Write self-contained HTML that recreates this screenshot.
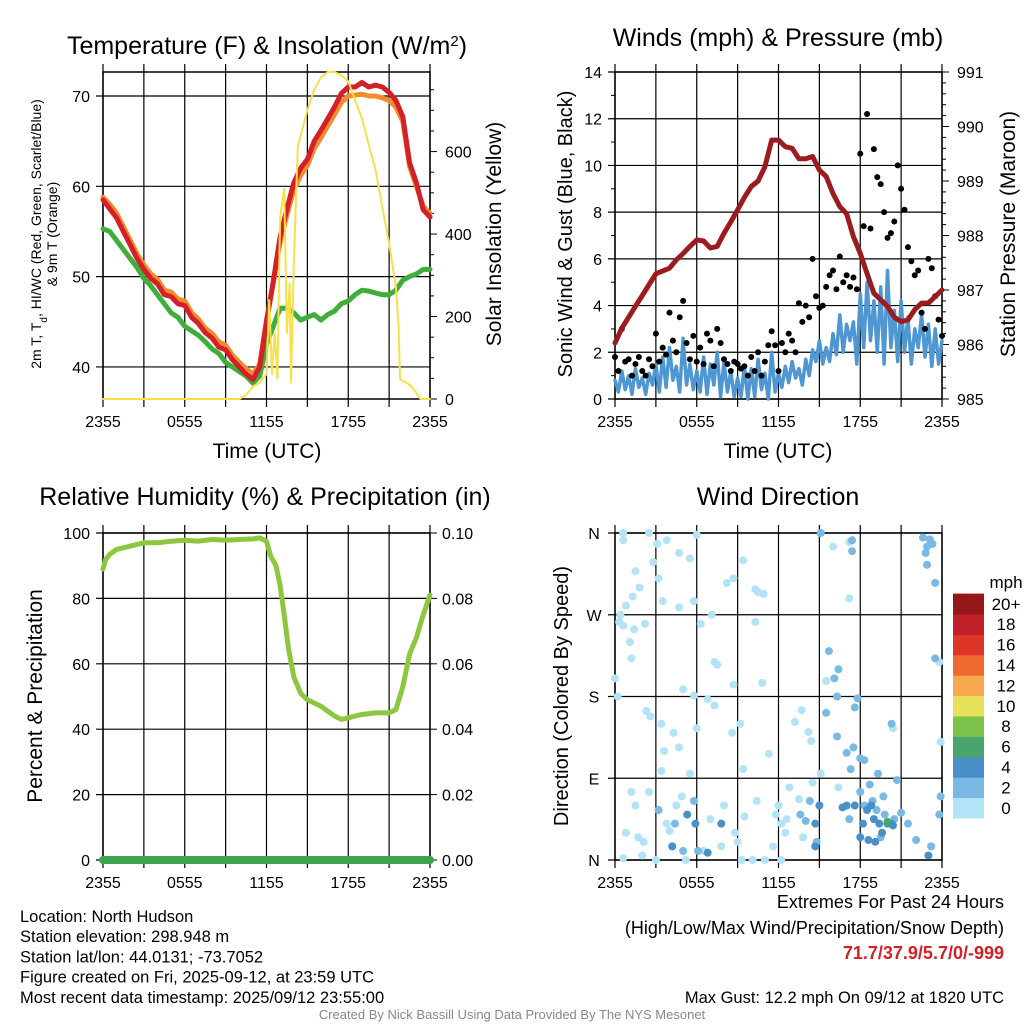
<!DOCTYPE html>
<html><head><meta charset="utf-8"><style>
html,body{margin:0;padding:0;background:#fff;}
svg{display:block;font-family:"Liberation Sans",sans-serif;}
</style></head><body>
<svg id="c" width="1024" height="1024" viewBox="0 0 1024 1024">
<g id="g1"></g>
<g id="g2"></g>
<g id="g3"></g>
<g id="g4"></g>
<g id="g5"></g>
</svg>
<script>
const hours49=[0,0.5,1,1.5,2,2.5,3,3.5,4,4.5,5,5.5,6,6.5,7,7.5,8,8.5,9,9.5,10,10.5,11,11.5,12,12.5,13,13.5,14,14.5,15,15.5,16,16.5,17,17.5,18,18.5,19,19.5,20,20.5,21,21.5,22,22.5,23,23.5,24];
const tempRed=[58.5,57.5,56.5,55,53.5,52,50.8,49.8,49.2,48,47.8,47,46.8,45.5,44.8,43.8,43.2,42.2,41.9,40.8,40,39.2,38.6,40,45,49.5,54.4,57.5,60.4,62,63,65,66.2,67.5,68.8,70.3,71,71,71.5,71,71.2,71,70.4,69.5,67.7,62.6,60.4,57.4,56.6];
const temp9m=[58.8,58,57,55.5,54,52.5,51.3,50.3,49.7,48.5,48.3,47.5,47.3,46,45.3,44.3,43.7,42.8,42.4,41.3,40.5,39.8,39.2,40.3,45.2,49.3,53.8,56.8,59.6,61.2,62.3,64.2,65.4,66.7,68,69.3,70,70.1,70.2,70,70,69.8,69.5,68.8,67.2,62.2,60,57.8,57];
const dewGreen=[55.3,55,54,53,52,51,49.8,49,48,47,46,45.5,44.5,44,43.5,42.8,42,41.5,40.5,40,39.5,39,38.2,39,42.5,44.5,46.5,46.5,46,45.2,45.5,45.8,45.2,45.8,46.2,47,47.3,48,48.5,48.4,48.2,48,48,48.5,49.6,50,50.3,50.8,50.8];
const solarHours=[0,10,10.5,11,11.5,12,12.2,12.4,12.6,12.8,13,13.3,13.5,13.7,13.8,14,14.3,15,15.5,16,16.5,17,17.5,18,19,20,21,21.5,21.7,21.8,22.5,23,23.3,24];
const solarVals=[0,0,10,30,40,60,240,60,160,50,440,510,160,280,40,330,612,700,750,780,793,793,785,770,680,555,377,272,170,48,35,15,0,0];
const tempTicks=[40,50,60,70];
const solarTicks=[0,200,400,600];
const timeTickLabels=["2355","0555","1155","1755","2355"];

const hours97=[];for(let i=0;i<=96;i++)hours97.push(i/4);
const windSonic=[0.8,0.3,1.2,0.4,1.0,0.2,1.3,0.5,0.9,0.2,1.1,0.6,1.5,0.3,1.8,0.5,2.2,0.8,1.4,0.3,2.6,0.6,1.5,0.4,1.2,0.3,1.8,0.2,1.5,0.6,2.0,0.1,1.6,0.3,1.2,0.1,0.9,0.1,1.4,0.0,1.3,0.1,1.7,0.4,1.1,0.0,2.0,0.3,1.1,0.5,1.4,0.7,1.6,0.9,1.3,0.6,1.7,1.0,2.1,1.6,2.5,1.5,2.2,1.6,2.8,1.9,3.6,2.0,3.2,2.5,3.3,1.5,4.5,2.2,5.0,2.5,4.2,2.0,4.8,1.5,5.5,2.2,3.8,1.6,4.2,2.0,3.5,1.5,3.0,2.2,3.6,1.8,3.2,1.4,3.0,1.5,2.5];
const windGust=[1.8,1.2,3.0,1.6,1.7,1.0,1.5,1.8,1.2,1.0,1.7,1.4,2.8,1.6,2.2,1.9,3.7,2.5,2.0,3.5,4.2,2.4,1.7,2.7,1.6,2.2,1.5,2.8,2.5,1.4,3.0,2.4,1.7,1.5,1.2,1.6,1.5,1.3,1.4,1.0,1.8,1.2,2.0,1.0,1.6,2.3,2.9,2.3,1.2,2.4,2.0,2.8,2.5,2.0,4.1,3.3,4.0,3.5,6.0,4.4,3.9,4.0,4.8,5.3,5.5,4.7,6.1,5.0,5.3,4.8,5.2,4.7,10.5,7.4,12.2,7.3,10.7,9.5,9.2,8.0,6.9,7.1,7.6,10.0,9.0,8.1,6.5,5.9,5.3,5.5,3.7,3.0,6.0,5.6,4.4,3.4,2.7];
const pressure=[986.03,986.3,986.5,986.7,986.9,987.1,987.3,987.35,987.4,987.55,987.67,987.8,987.92,987.9,987.77,987.8,988.04,988.25,988.47,988.7,988.9,989.0,989.26,989.75,989.75,989.63,989.6,989.41,989.41,989.45,989.2,989.08,988.77,988.53,988.4,987.98,987.67,987.3,986.94,986.82,986.7,986.5,986.42,986.45,986.64,986.76,986.76,986.88,987.0];
const windTicks=[0,2,4,6,8,10,12,14];
const pressTicks=[985,986,987,988,989,990,991];

const rhHours=[0,0.2,0.5,1,2,3,4,5,6,7,8,9,10,11,11.5,12,12.3,12.7,13,13.3,13.6,14,14.5,15,16,16.5,17,17.5,18,18.5,19,20,21,21.5,22,22.5,23,23.5,24];
const rhVals=[89,92,93.5,95,96,97,97,97.5,97.8,97.5,98,97.8,98,98.2,98.5,97.5,93,90,84,75,65,56,51,49,47,45.5,44,43,43.5,44,44.5,45,45,46,53,63,68,75,81];
const precipHours=[0,24];
const precipVals=[0,0];
const rhTicks=[0,20,40,60,80,100];
const precipTicks=["0.00","0.02","0.04","0.06","0.08","0.10"];

const dirPts=[[0.6,360,1],[0.6,352,1],[1.5,318,1],[2.5,360,1],[3.1,348,1],[1.8,300,1],[1.3,290,1],[0.8,280,1],[0.4,270,1],[0.3,262,1],[0.6,258,1],[1.4,254,1],[1.1,240,1],[1.2,222,1],[0.0,200,1],[0.2,180,1],[2.3,164,1],[2.6,158,1],[3.4,150,1],[3.6,120,1],[3.4,98,1],[2.5,75,1],[1.5,60,1],[1.2,75,1],[0.8,30,1],[1.7,25,1],[2.1,20,1],[2.0,5,1],[0.6,2,1],[3.0,0,1],[3.8,40,1],[4.0,32,1],[4.5,60,1],[4.9,70,1],[5.5,95,1],[5.2,0,1],[4.3,140,1],[4.7,124,1],[5.0,188,1],[5.8,181,1],[6.0,145,1],[6.8,177,1],[7.3,170,1],[7.3,218,1],[7.5,215,1],[7.1,270,1],[6.3,260,1],[5.8,285,1],[6.0,358,1],[5.5,332,1],[4.7,338,1],[3.8,352,1],[2.8,328,1],[3.2,310,1],[3.5,285,1],[4.7,278,1],[2.2,260,1],[8.2,305,1],[8.7,310,1],[9.4,330,1],[10.3,298,1],[10.9,293,1],[10.3,262,1],[10.5,295,1],[8.6,140,1],[9.2,150,1],[8.7,193,1],[10.8,195,1],[9.4,100,1],[11.3,117,1],[9.5,48,1],[10.4,65,1],[11.6,15,1],[12.2,40,1],[12.5,30,1],[13.5,67,1],[13.8,25,1],[12.2,0,1],[11.0,0,1],[10.1,0,1],[9.3,0,1],[13.2,152,1],[13.7,165,1],[14.2,141,1],[14.4,131,1],[15.5,197,1],[16.0,345,1],[17.2,288,1],[17.2,350,1],[15.1,95,1],[16.4,80,1],[20.4,145,1],[23.9,130,1],[23.8,218,1],[9.0,20,1],[8.0,60,1],[7.0,45,1],[6.5,10,1],[11.8,50,1],[12.8,80,1],[14.5,85,1],[12.0,60,1],[12.6,45,1],[7.8,15,1],[8.8,30,1],
[15.1,360,3],[17.4,352,3],[17.4,340,3],[15.7,230,3],[16.1,200,3],[16.4,210,3],[16.3,180,3],[15.5,162,3],[16.3,136,3],[17.6,168,3],[17.8,178,3],[17.5,124,3],[17.0,118,3],[17.3,100,3],[18.0,75,3],[18.7,83,3],[19.7,70,3],[20.7,88,3],[21.0,52,3],[21.5,40,3],[22.6,355,3],[22.9,345,3],[23.1,353,3],[22.9,325,3],[23.5,305,3],[23.5,222,3],[23.9,70,3],[23.8,50,3],[23.2,15,3],[22.1,22,3],[19.5,25,3],[19.2,55,3],[18.3,60,3],[17.2,45,3],[14.3,65,3],[14.0,43,3],[13.6,50,3],[14.8,20,3],[5.8,65,3],[5.0,10,3],[6.1,10,3],[3.2,55,3],[4.4,40,3],[20.3,150,3],[19.3,95,3],[18.3,110,3],[18.0,112,3],[20.5,45,3],[19.8,50,3],[18.9,65,3],[22.8,338,3],[23.3,348,3],
[17.0,60,5],[17.6,60,5],[18.5,55,5],[18.8,60,5],[19.0,45,5],[19.4,40,5],[20.0,40,5],[20.3,40,5],[20.4,38,5],[19.1,20,5],[18.6,22,5],[15.0,60,5],[19.6,30,5],[23.0,5,5],[14.7,40,5],[5.3,50,5],[5.9,40,5],[7.8,40,5],[4.2,15,5],[6.8,8,5],[14.7,15,5],[18.0,25,5],[18.2,40,5],[16.7,58,5],
[20.0,42,7]];
const dirTickLabels=["N","E","S","W","N"];
const cbarLabels=["0","2","4","6","8","10","12","14","16","18","20+"];
const cbarColors=["#b3e3f7","#7ab9e4","#4a90c8","#48a56c","#7dc24a","#e6e25a","#f6a84a","#ef6a30","#dd3629","#bf1f26","#96171a"];

const NS="http://www.w3.org/2000/svg";
function el(p,tag,attrs,text){const e=document.createElementNS(NS,tag);for(const k in attrs)e.setAttribute(k,attrs[k]);if(text!==undefined)e.textContent=text;p.appendChild(e);return e;}
function lin(d0,d1,r0,r1){return v=>r0+(v-d0)*(r1-r0)/(d1-d0);}
function pathFrom(xs,ys,fx,fy){return xs.map((x,i)=>(i?'L':'M')+fx(x).toFixed(1)+','+fy(ys[i]).toFixed(1)).join('');}

function frame(g,L,R,T,B,fx,hLines){
  for(let h=0;h<=24;h+=3){const x=fx(h);
    const ln=el(g,'line',{x1:x,x2:x,y1:T-8,y2:B+8,stroke:'#000','stroke-width':1.2});
    
    }
  hLines.forEach(y=>{const ln=el(g,'line',{x1:L-7,x2:R,y1:y,y2:y,stroke:'#000','stroke-width':1.2});
    
    });
  const r=el(g,'rect',{x:L,y:T,width:R-L,height:B-T,fill:'none',stroke:'#000','stroke-width':1.5});
  
  
  timeTickLabels.forEach((t,i)=>{const tx=el(g,'text',{x:fx(i*6),y:B+28,'font-size':16,'text-anchor':'middle'},t);
    
    });
}
function txt(g,x,y,s,size,name,extra){const t=el(g,'text',Object.assign({x:x,y:y,'font-size':size,'text-anchor':'middle'},extra||{}),s);return t;}
function line(g,d,color,w,name){const p=el(g,'path',{d:d,fill:'none',stroke:color,'stroke-width':w,'stroke-linejoin':'round','stroke-linecap':'round'});return p;}

// Panel 1
(function(){const g=document.getElementById('g1');const L=103,R=430,T=72,B=399;
 const fx=lin(0,24,L,R),fy=lin(36.45,72.66,B,T),fs=lin(0,793,B,T);
 frame(g,L,R,T,B,fx,tempTicks.map(fy));
 tempTicks.forEach(v=>txt(g,L-13,fy(v)+6,String(v),16,'y-tick-label',{'text-anchor':'end'}));
 for(let v=0;v<=750;v+=50){const y=fs(v);const t=el(g,'line',{x1:R,x2:R+(v%200===0?7:4),y1:y,y2:y,stroke:'#000','stroke-width':1});}
 solarTicks.forEach(v=>txt(g,R+15,fs(v)+6,String(v),16,'right-tick-label',{'text-anchor':'start'}));
 line(g,pathFrom(hours49,dewGreen,fx,fy),'#3fae3c',5,'dewpoint-line');
 line(g,pathFrom(hours49,temp9m,fx,fy),'#f58b2e',5,'temp-9m-line');
 line(g,pathFrom(hours49,tempRed,fx,fy),'#d42027',5,'temp-2m-line');
 line(g,pathFrom(solarHours,solarVals,fx,fs),'#f7e04a',2,'solar-line');
 const t=txt(g,267,54,'',25,'panel-title');t.innerHTML='Temperature (F) &amp; Insolation (W/m<tspan baseline-shift="super" font-size="15">2</tspan>)';
 txt(g,267,458,'Time (UTC)',21,'x-axis-title');
 const yl=txt(g,0,0,'',14,'y-axis-title',{transform:'translate(41,234) rotate(-90)'});
 yl.innerHTML='2m T, T<tspan baseline-shift="sub" font-size="10">d</tspan>, HI/WC (Red, Green, Scarlet/Blue)';
 txt(g,0,0,'& 9m T (Orange)',14,'y-axis-title-line2',{transform:'translate(57,234) rotate(-90)'});
 txt(g,0,0,'Solar Insolation (Yellow)',21,'right-axis-title',{transform:'translate(501,234) rotate(-90)'});
})();

// Panel 2
(function(){const g=document.getElementById('g2');const L=615,R=942,T=72,B=399;
 const fx=lin(0,24,L,R),fy=lin(0,14,B,T),fp=lin(985,991,B,T);
 frame(g,L,R,T,B,fx,windTicks.map(fy));
 windTicks.forEach(v=>txt(g,L-13,fy(v)+6,String(v),16,'y-tick-label',{'text-anchor':'end'}));
 for(let v=1;v<14;v+=2){const y=fy(v);const t=el(g,'line',{x1:L-4,x2:L,y1:y,y2:y,stroke:'#000'});}
 for(let v=985;v<=991.001;v+=0.2){const y=fp(v);const maj=Math.abs(v-Math.round(v))<0.01;const t=el(g,'line',{x1:R,x2:R+(maj?7:4),y1:y,y2:y,stroke:'#000','stroke-width':1});}
 pressTicks.forEach(v=>txt(g,R+15,fp(v)+6,String(v),16,'right-tick-label',{'text-anchor':'start'}));
 line(g,pathFrom(hours97,windSonic,fx,fy),'#4f97d3',3.5,'sonic-wind-line');
 windGust.forEach((v,i)=>{const c=el(g,'circle',{cx:fx(hours97[i]),cy:fy(v),r:3,fill:'#000'});});
 line(g,pathFrom(hours49,pressure,fx,fp),'#9b1b1e',5,'pressure-line');
 txt(g,778,46,'Winds (mph) & Pressure (mb)',25,'panel-title');
 txt(g,778,458,'Time (UTC)',21,'x-axis-title');
 txt(g,0,0,'Sonic Wind & Gust (Blue, Black)',20,'y-axis-title',{transform:'translate(572,234) rotate(-90)'});
 txt(g,0,0,'Station Pressure (Maroon)',21,'right-axis-title',{transform:'translate(1015,234) rotate(-90)'});
})();

// Panel 3
(function(){const g=document.getElementById('g3');const L=103,R=430,T=533,B=860;
 const fx=lin(0,24,L,R),fy=lin(0,100,B,T);
 frame(g,L,R,T,B,fx,rhTicks.map(fy));
 rhTicks.forEach(v=>txt(g,L-13,fy(v)+6,String(v),16,'y-tick-label',{'text-anchor':'end'}));
 precipTicks.forEach((s,i)=>{const y=fy(rhTicks[i]);const t=el(g,'line',{x1:R,x2:R+7,y1:y,y2:y,stroke:'#000'});txt(g,R+12,y+6,s,16,'right-tick-label',{'text-anchor':'start'});});
 line(g,pathFrom(rhHours,rhVals,fx,fy),'#8dc63f',5,'humidity-line');
 line(g,pathFrom(precipHours,precipVals.map(v=>v*1000),fx,fy),'#3fa34d',8,'precip-line');
 txt(g,265,505,'Relative Humidity (%) & Precipitation (in)',25,'panel-title');
 txt(g,0,0,'Percent & Precipitation',21,'y-axis-title',{transform:'translate(42,696) rotate(-90)'});
})();

// Panel 4
(function(){const g=document.getElementById('g4');const L=615,R=942,T=533,B=860;
 const fx=lin(0,24,L,R),fy=lin(0,360,B,T);
 frame(g,L,R,T,B,fx,[0,90,180,270,360].map(fy));
 dirTickLabels.forEach((s,i)=>txt(g,L-21,fy(i*90)+6,s,16,'y-tick-label'));
 dirPts.forEach(p=>{const c=el(g,'circle',{cx:fx(p[0]),cy:fy(p[1]),r:4,fill:cbarColors[Math.min(10,Math.floor(p[2]/2))]});});
 txt(g,778,505,'Wind Direction',25,'panel-title');
 txt(g,0,0,'Direction (Colored By Speed)',20,'y-axis-title',{transform:'translate(568,696) rotate(-90)'});
 const cb=el(g,'g',{});
 const h=20.4;cbarColors.forEach((c,i)=>{const y=818-(i+1)*h;const r=el(cb,'rect',{x:953,y:y,width:31,height:h+0.5,fill:c});txt(cb,1006,y+h/2+6,cbarLabels[i],17,'colorbar-label');});
 txt(cb,1006,588,'mph',17,'colorbar-title');
})();

// Footer
(function(){const g=document.getElementById('g5');
 const lines=["Location: North Hudson","Station elevation: 298.948 m","Station lat/lon: 44.0131; -73.7052","Figure created on Fri, 2025-09-12, at 23:59 UTC","Most recent data timestamp: 2025/09/12 23:55:00"];
 lines.forEach((s,i)=>txt(g,20,922+i*20.2,s,16.5,'station-info-line',{'text-anchor':'start'}));
 txt(g,1004,908,'Extremes For Past 24 Hours',18,'extremes-title',{'text-anchor':'end'});
 txt(g,1004,934,'(High/Low/Max Wind/Precipitation/Snow Depth)',18,'extremes-subtitle',{'text-anchor':'end'});
 txt(g,1004,959,'71.7/37.9/5.7/0/-999',18,'extremes-values',{'text-anchor':'end',fill:'#d42027','font-weight':'bold'});
 txt(g,1004,1003,'Max Gust: 12.2 mph On 09/12 at 1820 UTC',16.5,'max-gust',{'text-anchor':'end'});
 txt(g,512,1019,'Created By Nick Bassill Using Data Provided By The NYS Mesonet',13,'credit',{fill:'#888'});
})();
</script>
</body></html>
